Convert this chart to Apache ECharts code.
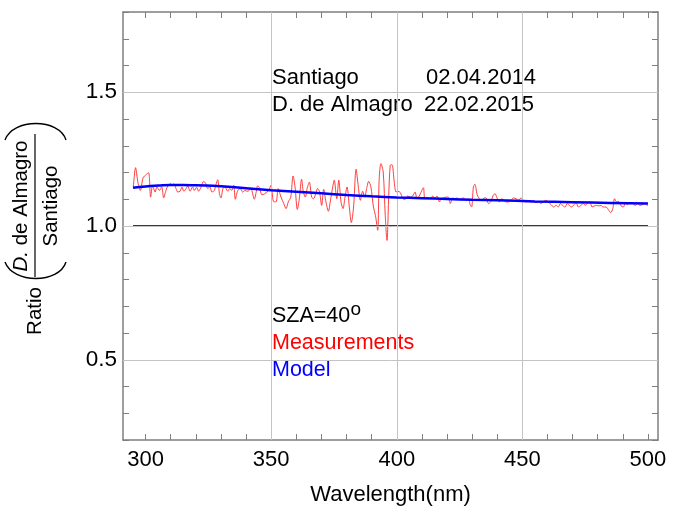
<!DOCTYPE html>
<html>
<head>
<meta charset="utf-8">
<script src="https://cdn.jsdelivr.net/npm/echarts@6/dist/echarts.min.js"></script>
<style>html,body{margin:0;padding:0;background:#fff;}#c{width:675px;height:516px;}</style>
</head>
<body>
<div id="c"></div>
<script>
// ---- data ----
const measWl = [295.1,296.0,297.0,297.9,299.0,300.2,301.2,302.0,302.8,303.8,304.5,305.5,306.4,307.2,308.1,309.0,309.9,310.5,311.2,312.1,312.8,313.7,314.5,315.2,316.1,316.8,317.7,318.7,319.4,320.3,321.1,322.1,323.1,324.0,324.7,325.6,326.4,327.4,328.0,328.7,329.4,330.0,330.8,331.6,332.7,333.5,334.3,335.1,335.7,336.7,337.7,338.6,339.6,340.4,341.3,342.0,342.6,343.3,344.1,344.6,345.4,346.3,347.3,
349.0,349.9,350.9,351.9,352.8,353.9,355.0,355.9,356.8,357.8,358.7,359.5,360.4,361.2,362.1,362.8,363.6,364.3,365.2,366.1,366.9,367.6,368.5,369.2,370.1,370.9,371.8,372.8,373.5,374.5,375.1,376.1,376.9,377.8,378.6,379.4,380.2,381.1,381.9,382.8,383.8,384.7,385.5,386.4,387.2,388.0,388.8,389.7,390.7,391.5,392.4,393.0,393.7,394.6,395.4,396.1,396.8,397.4,398.1,399.0,399.7,
400.4,401.4,402.4,403.3,404.3,405.4,406.3,407.3,408.0,408.7,409.6,410.6,411.2,412.3,413.4,414.3,415.2,416.0,417.0,417.6,418.7,419.6,420.5,421.3,422.3,423.2,424.0,424.9,425.8,426.6,427.6,428.5,429.3,429.8,430.5,431.1,432.0,432.9,433.8,434.9,435.5,436.5,437.5,438.4,439.1,439.9,440.8,441.8,442.6,443.5,444.5,445.5,446.5,447.5,448.4,449.5,450.4,451.5,452.4,453.4,
454.5,455.4,456.5,457.4,458.3,459.4,460.3,461.4,462.5,463.4,464.3,465.2,466.0,467.0,467.9,468.7,469.6,470.6,471.4,472.3,473.3,474.3,475.1,476.0,476.9,477.7,478.6,479.6,480.4,481.3,482.2,483.3,484.4,485.2,486.0,486.7,487.5,488.3,489.3,490.2,491.0,491.9,492.8,493.9,495.0,495.9,496.8,497.9,498.9,499.9];
const measVal = [1.143,1.218,1.160,1.133,1.180,1.192,1.199,1.108,1.152,1.127,1.146,1.133,1.146,1.105,1.133,1.152,1.158,1.150,1.158,1.140,1.127,1.130,1.146,1.130,1.140,1.150,1.130,1.146,1.133,1.145,1.130,1.146,1.167,1.158,1.140,1.146,1.127,1.133,1.155,1.173,1.121,1.105,1.140,1.146,1.130,1.140,1.133,1.152,1.100,1.133,1.140,1.127,1.133,1.130,1.133,1.142,1.121,1.100,1.130,1.150,1.142,1.117,1.120,
1.133,1.152,1.092,1.090,1.140,1.108,1.084,1.065,1.090,1.108,1.187,1.146,1.062,1.102,1.175,1.127,1.108,1.140,1.164,1.108,1.102,1.117,1.140,1.130,1.077,1.137,1.090,1.055,1.090,1.146,1.171,1.102,1.171,1.090,1.065,1.108,1.146,1.071,1.013,1.071,1.212,1.146,1.096,1.130,1.108,1.140,1.167,1.146,1.071,1.040,0.984,1.177,1.233,1.202,1.040,0.946,1.115,1.227,1.229,1.164,1.127,
1.130,1.125,1.102,1.100,1.112,1.108,1.112,1.127,1.105,1.108,1.125,1.143,1.102,1.105,1.102,1.112,1.105,1.112,1.090,1.102,1.105,1.108,1.108,1.084,1.105,1.102,1.105,1.100,1.102,1.105,1.096,1.102,1.077,1.071,1.146,1.156,1.117,1.102,1.096,1.105,1.105,1.084,1.092,1.115,1.121,1.105,1.090,1.102,1.096,1.090,1.090,1.096,1.105,1.102,1.096,1.105,1.096,1.090,1.092,1.090,
1.091,1.087,1.090,1.084,1.090,1.096,1.090,1.080,1.071,1.077,1.071,1.084,1.077,1.071,1.084,1.077,1.071,1.080,1.087,1.071,1.077,1.084,1.077,1.087,1.090,1.071,1.075,1.077,1.075,1.077,1.071,1.071,1.059,1.050,1.065,1.102,1.090,1.092,1.075,1.071,1.084,1.080,1.087,1.084,1.077,1.084,1.077,1.080,1.084,1.075];

const modelWl  = [295,300,305,310,315,320,330,340,350,360,370,380,390,400,410,420,430,440,455,470,485,500];
const modelVal = [1.143,1.148,1.151,1.153,1.153,1.152,1.149,1.141,1.134,1.128,1.122,1.116,1.111,1.107,1.104,1.101,1.098,1.096,1.092,1.089,1.086,1.084];

const refWl  = [295,500];
const refVal = [1.0,1.0];

const xTicks  = [300,310,320,330,340,350,360,370,380,390,400,410,420,430,440,450,460,470,480,490,500];
const xLabels = [300,350,400,450,500];
const yLabels = ['0.5','1.0','1.5'];
const xGrid = [350,400,450];
const yGrid = [0.5,1.0,1.5];

// ---- chart ----
const FONT = '"Liberation Sans", Arial, Helvetica, sans-serif';
const AX = '#7f7f7f';
const chart = echarts.init(document.getElementById('c'), null, {renderer:'canvas', width:675, height:516});

function zip(a,b){ return a.map((v,i)=>[v,b[i]]); }

const axLine = {show:true, onZero:false, lineStyle:{color:AX, width:1.5}};
const xBase = {type:'value', min:291, max:504, splitLine:{show:false}, axisLine:axLine,
  axisTick:{show:true, inside:true, length:6, customValues:xTicks, lineStyle:{color:AX, width:1}}};
const yBase = {type:'value', min:0.2, max:1.8, interval:0.1, splitLine:{show:false}, axisLine:axLine,
  axisTick:{show:true, inside:true, length:6, lineStyle:{color:AX, width:1}}};

const option = {
  animation:false,
  backgroundColor:'#fff',
  grid:{left:123, right:17, top:12, bottom:76, containLabel:false},
  xAxis:[
    Object.assign({}, xBase, {position:'bottom',
      axisLabel:{show:true, customValues:xLabels, fontSize:22, color:'#000', fontFamily:FONT, margin:9},
      name:'Wavelength(nm)', nameLocation:'middle', nameGap:44,
      nameTextStyle:{fontSize:22, color:'#000', fontFamily:FONT}}),
    Object.assign({}, xBase, {position:'top', axisLabel:{show:false}})
  ],
  yAxis:[
    Object.assign({}, yBase, {position:'left',
      axisLabel:{show:true, fontSize:22.5, color:'#000', fontFamily:FONT, margin:6,
        formatter:function(v){ const s=(Math.round(v*10)/10).toFixed(1); return yLabels.indexOf(s)>=0 ? s : ''; }}}),
    Object.assign({}, yBase, {position:'right', axisLabel:{show:false}})
  ],
  series:[
    {type:'line', name:'grid', data:[], xAxisIndex:0, yAxisIndex:0, z:1, silent:true,
      markLine:{silent:true, symbol:['none','none'], label:{show:false}, animation:false,
        lineStyle:{color:'#c4c4c4', width:1, type:'solid'},
        data: xGrid.map(v=>({xAxis:v})).concat(yGrid.map(v=>({yAxis:v})))}},
    {type:'line', name:'ref', data:zip(refWl, refVal), showSymbol:false, symbol:'none', z:3,
      lineStyle:{color:'#383838', width:2.2}},
    {type:'line', name:'Measurements', data:zip(measWl, measVal), showSymbol:false, symbol:'none', smooth:0.3, z:4,
      lineStyle:{color:'#ff2a2a', width:1, opacity:0.9}},
    {type:'line', name:'Model', data:zip(modelWl, modelVal), showSymbol:false, symbol:'none', smooth:true, z:5,
      lineStyle:{color:'#0000ff', width:2.5}}
  ],
  graphic:[
    {type:'text', x:272, y:89, style:{text:'Santiago', fontSize:22, fontFamily:FONT, fill:'#000', verticalAlign:'bottom'}},
    {type:'text', x:426, y:89, style:{text:'02.04.2014', fontSize:22, fontFamily:FONT, fill:'#000', verticalAlign:'bottom'}},
    {type:'text', x:272, y:116, style:{text:'D. de Almagro', fontSize:22, fontFamily:FONT, fill:'#000', verticalAlign:'bottom'}},
    {type:'text', x:424, y:116, style:{text:'22.02.2015', fontSize:22, fontFamily:FONT, fill:'#000', verticalAlign:'bottom'}},
    {type:'text', x:272, y:327, style:{text:'SZA=40', fontSize:21.5, fontFamily:FONT, fill:'#000', verticalAlign:'bottom'}},
    {type:'text', x:350.5, y:319, style:{text:'o', fontSize:19, fontFamily:FONT, fill:'#000', verticalAlign:'bottom'}},
    {type:'text', x:272, y:354, style:{text:'Measurements', fontSize:21.5, fontFamily:FONT, fill:'#ff0000', verticalAlign:'bottom'}},
    {type:'text', x:272, y:381, style:{text:'Model', fontSize:21.5, fontFamily:FONT, fill:'#0000ff', verticalAlign:'bottom'}},
    {type:'group', x:35, y:206, rotation:Math.PI/2, children:[
      {type:'text', x:-105, y:0, style:{text:'Ratio', fontSize:20.5, fontFamily:FONT, fill:'#000', align:'center', verticalAlign:'middle'}},
      {type:'text', x:0, y:-3, style:{text:'{i|D.} de Almagro', fontSize:20.5, fontFamily:FONT, fill:'#000', align:'center', verticalAlign:'bottom',
        rich:{i:{fontStyle:'italic', fontSize:20.5, fontFamily:FONT, fill:'#000'}}}},
      {type:'text', x:0, y:6, style:{text:'Santiago', fontSize:20.5, fontFamily:FONT, fill:'#000', align:'center', verticalAlign:'top'}},
      {type:'line', shape:{x1:-71, y1:0, x2:72, y2:0}, style:{stroke:'#000', lineWidth:1.2}},
      {type:'bezierCurve', shape:{x1:-56, y1:-30, cpx1:-78, cpy1:-22, cpx2:-78, cpy2:24, x2:-56, y2:31}, style:{stroke:'#000', lineWidth:1.4, fill:null}},
      {type:'bezierCurve', shape:{x1:66, y1:-30, cpx1:88, cpy1:-22, cpx2:88, cpy2:24, x2:66, y2:31}, style:{stroke:'#000', lineWidth:1.4, fill:null}}
    ]}
  ]
};
chart.setOption(option);
</script>
</body>
</html>
